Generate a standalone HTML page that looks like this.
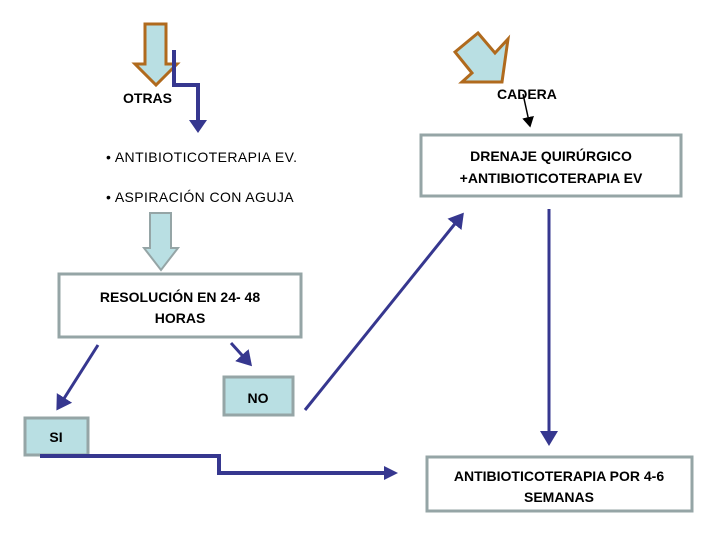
<!DOCTYPE html>
<html><head><meta charset="utf-8"><style>
body{margin:0;background:#fff}
svg{display:block}
text{font-family:"Liberation Sans",sans-serif;font-size:14px;fill:#000}
.b{font-weight:bold}
</style></head><body>
<svg width="720" height="540" viewBox="0 0 720 540">
<defs>
<marker id="a" markerWidth="6" markerHeight="6" refX="4" refY="3" orient="auto" markerUnits="strokeWidth"><path d="M0,0 L5,3 L0,6 z" fill="#36378f"/></marker>
<marker id="a2" markerWidth="6" markerHeight="6" refX="4" refY="3" orient="auto" markerUnits="strokeWidth"><path d="M0,0 L5,3 L0,6 z" fill="#36378f"/></marker>
<marker id="k" markerWidth="8" markerHeight="8" refX="6" refY="4" orient="auto" markerUnits="strokeWidth"><path d="M0,0 L7,4 L0,8 z" fill="#000"/></marker>
</defs>
<polygon points="145,24 166,24 166,64 177,64 156,85 135,64 145,64" fill="#b9dfe3" stroke="#b06a1d" stroke-width="3"/>
<polyline points="174,50 174,85 198,85 198,124" fill="none" stroke="#36378f" stroke-width="4"/>
<polygon points="189,120 207,120 198,133" fill="#36378f"/>
<text x="123" y="103" class="b">OTRAS</text>
<polygon points="455,52 478,33 495,53 508,39 502,82 462,82 472,73" fill="#b9dfe3" stroke="#b06a1d" stroke-width="3"/>
<text x="497" y="99" class="b">CADERA</text>
<line x1="523" y1="94" x2="530" y2="126" stroke="#000" stroke-width="1.5" marker-end="url(#k)"/>
<rect x="421" y="135" width="260" height="61" fill="#fff" stroke="#95a5a6" stroke-width="3"/>
<text x="551" y="161" text-anchor="middle" class="b">DRENAJE  QUIRÚRGICO</text>
<text x="551" y="183" text-anchor="middle" class="b">+ANTIBIOTICOTERAPIA EV</text>
<text x="106" y="162" letter-spacing="0.4">• ANTIBIOTICOTERAPIA EV.</text>
<text x="106" y="202" letter-spacing="0.4">• ASPIRACIÓN  CON  AGUJA</text>
<polygon points="150,213 171,213 171,248 178,248 161,270 144,248 150,248" fill="#b9dfe3" stroke="#95a5a6" stroke-width="2"/>
<rect x="59" y="274" width="242" height="63" fill="#fff" stroke="#95a5a6" stroke-width="3"/>
<text x="180" y="302" text-anchor="middle" class="b">RESOLUCIÓN EN 24- 48</text>
<text x="180" y="323" text-anchor="middle" class="b">HORAS</text>
<line x1="98" y1="345" x2="58" y2="408" stroke="#36378f" stroke-width="3" marker-end="url(#a)"/>
<line x1="231" y1="343" x2="250" y2="364" stroke="#36378f" stroke-width="3" marker-end="url(#a)"/>
<rect x="224" y="377" width="69" height="38" fill="#b9dfe3" stroke="#95a5a6" stroke-width="3"/>
<text x="258" y="403" text-anchor="middle" class="b">NO</text>
<line x1="305" y1="410" x2="462" y2="215" stroke="#36378f" stroke-width="3" marker-end="url(#a)"/>
<rect x="25" y="418" width="63" height="37" fill="#b9dfe3" stroke="#95a5a6" stroke-width="3"/>
<text x="56" y="442" text-anchor="middle" class="b">SI</text>
<polyline points="40,456 219,456 219,473 386,473" fill="none" stroke="#36378f" stroke-width="4"/>
<polygon points="384,466 398,473 384,480" fill="#36378f"/>
<line x1="549" y1="209" x2="549" y2="443" stroke="#36378f" stroke-width="3" marker-end="url(#a)"/>
<rect x="427" y="457" width="265" height="54" fill="#fff" stroke="#95a5a6" stroke-width="3"/>
<text x="559" y="481" text-anchor="middle" class="b">ANTIBIOTICOTERAPIA POR 4-6</text>
<text x="559" y="502" text-anchor="middle" class="b">SEMANAS</text>
</svg>
</body></html>
